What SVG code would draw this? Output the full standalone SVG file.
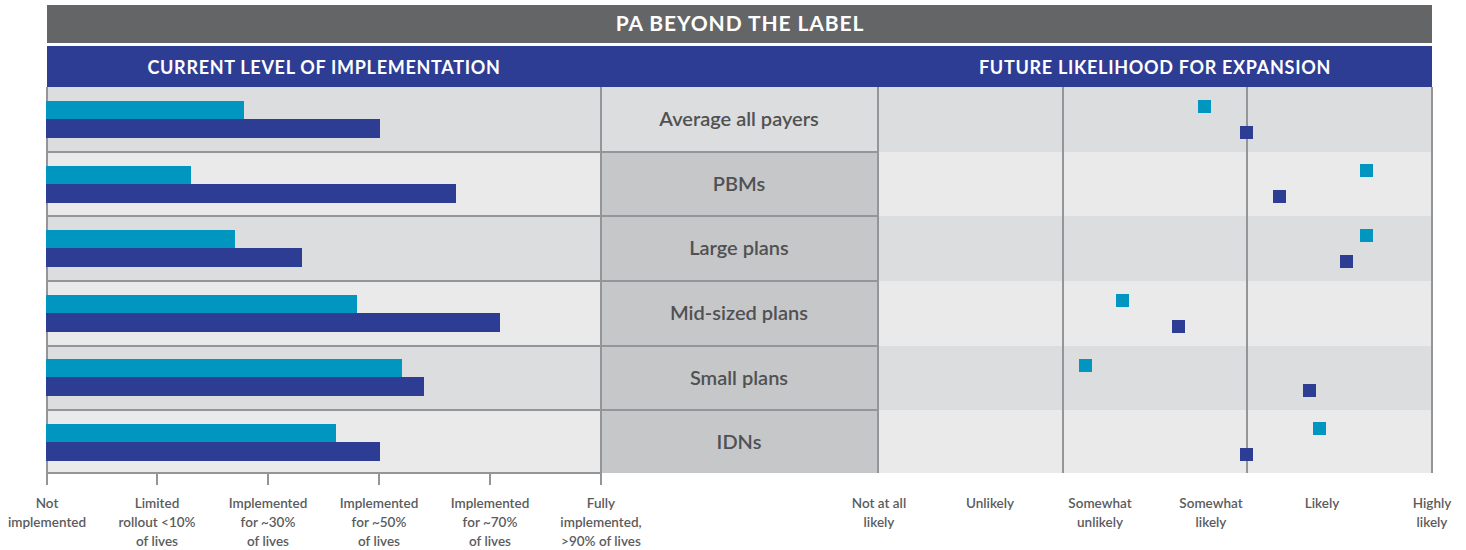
<svg xmlns="http://www.w3.org/2000/svg" width="1466" height="550" viewBox="0 0 1466 550">
<style>
.bgA{fill:#DCDDDF}
.bgB{fill:#EAEAEA}
.mid{fill:#C6C7C9}
.teal{fill:#0096BF}
.navy{fill:#2E3D94}
.ln{stroke:#939598;stroke-width:2;fill:none}
.lbl{font-family:Lato,"Open Sans",sans-serif;font-size:20px;font-weight:600;fill:#505153;text-anchor:middle}
.ax{font-family:Lato,"Liberation Sans",sans-serif;font-size:13.5px;font-weight:600;fill:#5A5B5D;text-anchor:middle}
.hd{font-family:Lato,"Liberation Sans",sans-serif;font-size:18px;font-weight:700;fill:#FFFFFF;text-anchor:middle;letter-spacing:0.7px}
</style>
<rect width="1466" height="550" fill="#FFFFFF"/>
<g id="title">
<rect x="47" y="5" width="1385" height="38" fill="#646567"/>
<text x="740" y="31" class="hd" style="font-size:21px;letter-spacing:0.9px">PA BEYOND THE LABEL</text>
</g>
<g id="headers">
<rect x="47" y="46" width="1385" height="41" fill="#2E3D94"/>
<text x="324" y="74" class="hd">CURRENT LEVEL OF IMPLEMENTATION</text>
<text x="1155" y="74" class="hd">FUTURE LIKELIHOOD FOR EXPANSION</text>
</g>
<g id="bands">
<rect x="47" y="87" width="1385" height="65" class="bgA"/>
<rect x="47" y="152" width="1385" height="64" class="bgB"/>
<rect x="47" y="216" width="1385" height="65" class="bgA"/>
<rect x="47" y="281" width="1385" height="65" class="bgB"/>
<rect x="47" y="346" width="1385" height="64" class="bgA"/>
<rect x="47" y="410" width="1385" height="63" class="bgB"/>
<rect x="601" y="152" width="277" height="321" class="mid"/>
</g>
<g id="grid">
<path class="ln" d="M47 87V485M157 473V485M268 473V485M379 473V485M490 473V485M601 87V485"/>
<path class="ln" d="M47 152H878M47 216H878M47 281H878M47 346H878M47 410H878M47 473H601"/>
<path class="ln" d="M878 87V473M1063 87V473M1247 87V473M1432 87V473"/>
</g>
<g id="row-average">
<rect x="46" y="101" width="198" height="18" class="teal"/>
<rect x="46" y="119" width="334" height="19" class="navy"/>
<text x="739" y="126" class="lbl">Average all payers</text>
<rect x="1198" y="100" width="13" height="13" class="teal"/>
<rect x="1240" y="126" width="13" height="13" class="navy"/>
</g>
<g id="row-pbms">
<rect x="46" y="166" width="145" height="18" class="teal"/>
<rect x="46" y="184" width="410" height="19" class="navy"/>
<text x="739" y="191" class="lbl">PBMs</text>
<rect x="1360" y="164" width="13" height="13" class="teal"/>
<rect x="1273" y="190" width="13" height="13" class="navy"/>
</g>
<g id="row-large">
<rect x="46" y="230" width="189" height="18" class="teal"/>
<rect x="46" y="248" width="256" height="19" class="navy"/>
<text x="739" y="255" class="lbl">Large plans</text>
<rect x="1360" y="229" width="13" height="13" class="teal"/>
<rect x="1340" y="255" width="13" height="13" class="navy"/>
</g>
<g id="row-mid">
<rect x="46" y="295" width="311" height="18" class="teal"/>
<rect x="46" y="313" width="454" height="19" class="navy"/>
<text x="739" y="320" class="lbl">Mid-sized plans</text>
<rect x="1116" y="294" width="13" height="13" class="teal"/>
<rect x="1172" y="320" width="13" height="13" class="navy"/>
</g>
<g id="row-small">
<rect x="46" y="359" width="356" height="18" class="teal"/>
<rect x="46" y="377" width="378" height="19" class="navy"/>
<text x="739" y="385" class="lbl">Small plans</text>
<rect x="1079" y="359" width="13" height="13" class="teal"/>
<rect x="1303" y="384" width="13" height="13" class="navy"/>
</g>
<g id="row-idns">
<rect x="46" y="424" width="290" height="18" class="teal"/>
<rect x="46" y="442" width="334" height="19" class="navy"/>
<text x="739" y="449" class="lbl">IDNs</text>
<rect x="1313" y="422" width="13" height="13" class="teal"/>
<rect x="1240" y="448" width="13" height="13" class="navy"/>
</g>
<g id="axis-left">
<text class="ax" x="47" y="508">Not</text><text class="ax" x="47" y="527">implemented</text>
<text class="ax" x="157" y="508">Limited</text><text class="ax" x="157" y="527">rollout &lt;10%</text><text class="ax" x="157" y="546">of lives</text>
<text class="ax" x="268" y="508">Implemented</text><text class="ax" x="268" y="527">for ~30%</text><text class="ax" x="268" y="546">of lives</text>
<text class="ax" x="379" y="508">Implemented</text><text class="ax" x="379" y="527">for ~50%</text><text class="ax" x="379" y="546">of lives</text>
<text class="ax" x="490" y="508">Implemented</text><text class="ax" x="490" y="527">for ~70%</text><text class="ax" x="490" y="546">of lives</text>
<text class="ax" x="601" y="508">Fully</text><text class="ax" x="601" y="527">implemented,</text><text class="ax" x="601" y="546">&gt;90% of lives</text>
</g>
<g id="axis-right">
<text class="ax" x="879" y="508">Not at all</text><text class="ax" x="879" y="527">likely</text>
<text class="ax" x="990" y="508">Unlikely</text>
<text class="ax" x="1100" y="508">Somewhat</text><text class="ax" x="1100" y="527">unlikely</text>
<text class="ax" x="1211" y="508">Somewhat</text><text class="ax" x="1211" y="527">likely</text>
<text class="ax" x="1322" y="508">Likely</text>
<text class="ax" x="1432" y="508">Highly</text><text class="ax" x="1432" y="527">likely</text>
</g>
</svg>
